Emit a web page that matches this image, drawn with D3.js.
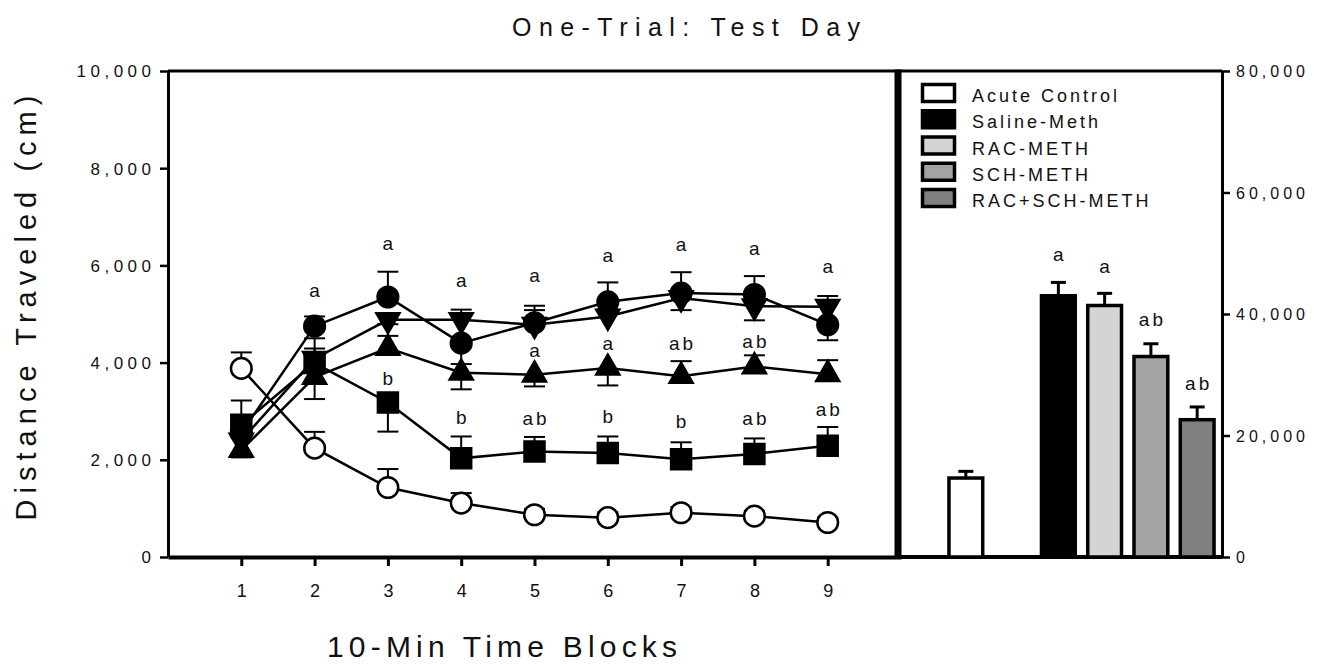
<html>
<head>
<meta charset="utf-8">
<style>
    body { margin: 0; background: #fff; }
    text { font-family: "Liberation Sans", Arial, sans-serif; fill: #111; }
</style>
</head>
<body>
<div id="chart"><svg></svg></div>
<script src="https://d3js.org/d3.v7.min.js"></script>
<script>
// ---- data ----
var blocks = [1, 2, 3, 4, 5, 6, 7, 8, 9]
var groups = ["Acute Control", "Saline-Meth", "RAC-METH", "SCH-METH", "RAC+SCH-METH"]

// per block means (cm); sem sign: + drawn above, - drawn below
var acuteMean  = [3880, 2240, 1430, 1110, 870, 810, 910, 840, 710]
var acuteSem   = [330, 335, 380, 205, 120, 110, 120, 110, 100]
var salineMean = [2550, 4750, 5350, 4400, 4820, 5250, 5430, 5400, 4780]
var salineSem  = [150, 200, 520, -430, 350, 400, 430, 380, -320]
var racMean    = [2400, 4080, 4880, 4880, 4780, 4950, 5330, 5160, 5150]
var racSem     = [150, 420, -90, 210, 300, 150, -250, -290, 220]
var schMean    = [2200, 3700, 4300, 3790, 3750, 3890, 3720, 3920, 3760]
var schSem     = [-150, -450, 250, -340, -240, -360, 310, 230, 290]
var comboMean  = [2720, 3990, 3180, 2030, 2170, 2140, 2010, 2120, 2290]
var comboSem   = [500, 300, -600, 450, 300, 340, 350, 320, 385]

// significance letters on the time course (at = height in cm)
var lineLetters = [
    {block: 2, label: "a", at: 5360}, {block: 3, label: "a", at: 6310}, {block: 4, label: "a", at: 5550},
    {block: 5, label: "a", at: 5650}, {block: 6, label: "a", at: 6080}, {block: 7, label: "a", at: 6290},
    {block: 8, label: "a", at: 6210}, {block: 9, label: "a", at: 5840},
    {block: 5, label: "a", at: 4120}, {block: 6, label: "a", at: 4250}, {block: 7, label: "ab", at: 4250},
    {block: 8, label: "ab", at: 4310},
    {block: 3, label: "b", at: 3530}, {block: 4, label: "b", at: 2740}, {block: 5, label: "ab", at: 2720},
    {block: 6, label: "b", at: 2760}, {block: 7, label: "b", at: 2660}, {block: 8, label: "ab", at: 2720},
    {block: 9, label: "ab", at: 2910}
]

// session totals
var barSlots   = ["Acute Control", "gap", "Saline-Meth", "RAC-METH", "SCH-METH", "RAC+SCH-METH"]
var totalMean  = [13000, 43000, 41400, 33000, 22600]
var totalSem   = [1100, 2200, 2000, 2100, 2100]
var totalLetters = ["", "a", "a", "ab", "ab"]
var totalLetterAt = [0, 48660, 46680, 38100, 27550]

var leftTicks = [0, 2000, 4000, 6000, 8000, 10000]
var rightTicks = [0, 20000, 40000, 60000, 80000]

var fills = ["#ffffff", "#000000", "#d4d4d4", "#a3a3a6", "#808080"]

// ---- layout ----
var screen = {width: 1326, height: 666}
var plot = {left: 168, right: 901, top: 71, bottom: 557}
var split = 898
var rightAxisX = 1222

var svg = d3.select("#chart svg")
            .attr("width", screen.width)
            .attr("height", screen.height)

var xScale = d3.scaleLinear().domain([0, 10]).range([plot.left, plot.right])
var yScale = d3.scaleLinear().domain([0, 10000]).range([plot.bottom, plot.top])
var yTotal = d3.scaleLinear().domain([0, 80000]).range([plot.bottom, plot.top])
var xBar = d3.scaleBand().domain(barSlots).range([936, 1227]).paddingInner(0.27).paddingOuter(0.28)

// frame
svg.append("line").attr("x1", plot.left).attr("x2", rightAxisX).attr("y1", plot.top).attr("y2", plot.top)
   .attr("stroke", "#000").attr("stroke-width", 3)
svg.append("line").attr("x1", split).attr("x2", split).attr("y1", plot.top - 1.5).attr("y2", plot.bottom)
   .attr("stroke", "#000").attr("stroke-width", 7)
svg.append("line").attr("x1", split).attr("x2", rightAxisX).attr("y1", plot.bottom).attr("y2", plot.bottom)
   .attr("stroke", "#000").attr("stroke-width", 4)

// axes
var yAxis = svg.append("g")
    .attr("transform", "translate(" + plot.left + ",0)")
    .call(d3.axisLeft(yScale).tickValues(leftTicks).tickSize(8).tickSizeOuter(0).tickFormat(d3.format(",")))
yAxis.select(".domain").attr("stroke-width", 3)
yAxis.selectAll(".tick line").attr("stroke-width", 2.5)
yAxis.selectAll("text").attr("x", -12.5).attr("dy", "0.35em").attr("font-size", null).attr("font-family", null)
     .style("font-size", "17px").style("letter-spacing", "4.5px")

var xAxis = svg.append("g")
    .attr("transform", "translate(0," + plot.bottom + ")")
    .call(d3.axisBottom(xScale).tickValues(blocks).tickSize(9).tickSizeOuter(0))
xAxis.select(".domain").attr("stroke-width", 4)
xAxis.selectAll(".tick line").attr("stroke-width", 3)
xAxis.selectAll("text").attr("y", 40).attr("dy", null).attr("font-family", null)
     .style("font-size", "18px")

var rAxis = svg.append("g")
    .attr("transform", "translate(" + rightAxisX + ",0)")
    .call(d3.axisRight(yTotal).tickValues(rightTicks).tickSize(8).tickSizeOuter(0).tickFormat(d3.format(",")))
rAxis.select(".domain").attr("stroke-width", 3)
rAxis.selectAll(".tick line").attr("stroke-width", 2.5)
rAxis.selectAll("text").attr("x", 14).attr("dy", "0.35em").attr("font-family", null)
     .style("font-size", "16px").style("letter-spacing", "4px")

// titles
svg.append("text").attr("x", 686).attr("y", 36).attr("text-anchor", "middle")
   .attr("textLength", 348).attr("lengthAdjust", "spacing")
   .style("font-size", "25px").text("One-Trial: Test Day")
svg.append("text").attr("x", 502).attr("y", 657).attr("text-anchor", "middle")
   .attr("textLength", 350).attr("lengthAdjust", "spacing")
   .style("font-size", "30px").text("10-Min Time Blocks")
svg.append("text").attr("transform", "translate(36,308) rotate(-90)").attr("text-anchor", "middle")
   .attr("textLength", 425).attr("lengthAdjust", "spacing")
   .style("font-size", "29px").text("Distance Traveled (cm)")

// time course
var series = [
    {mean: comboMean,  sem: comboSem,  symbol: d3.symbolSquare,   size: 400, fill: "#000", rot: 0},
    {mean: schMean,    sem: schSem,    symbol: d3.symbolTriangle, size: 230, fill: "#000", rot: 0},
    {mean: racMean,    sem: racSem,    symbol: d3.symbolTriangle, size: 230, fill: "#000", rot: 180},
    {mean: salineMean, sem: salineSem, symbol: d3.symbolCircle,   size: 335, fill: "#000", rot: 0},
    {mean: acuteMean,  sem: acuteSem,  symbol: d3.symbolCircle,   size: 335, fill: "#fff", rot: 0}
]

var linegenerator = d3.line()
    .x(function(d, i){return xScale(blocks[i])})
    .y(function(d){return yScale(d)})

var capHalf = 10.5
var groupsG = svg.append("g").selectAll("g").data(series).enter().append("g")

groupsG.each(function(s){
    var g = d3.select(this)
    var pts = s.mean.map(function(m, i){return {x: blocks[i], m: m, e: s.sem[i]}})
    var err = g.append("g").attr("stroke", "#000").attr("stroke-width", 2)
    err.selectAll(".stem").data(pts).enter().append("line")
       .attr("x1", function(d){return xScale(d.x)}).attr("x2", function(d){return xScale(d.x)})
       .attr("y1", function(d){return yScale(d.m)}).attr("y2", function(d){return yScale(d.m + d.e)})
    err.selectAll(".cap").data(pts).enter().append("line")
       .attr("x1", function(d){return xScale(d.x) - capHalf}).attr("x2", function(d){return xScale(d.x) + capHalf})
       .attr("y1", function(d){return yScale(d.m + d.e)}).attr("y2", function(d){return yScale(d.m + d.e)})
    g.append("path").datum(s.mean).attr("d", linegenerator)
     .attr("fill", "none").attr("stroke", "#000").attr("stroke-width", 2.5)
    g.selectAll(".mark").data(pts).enter().append("path")
     .attr("d", d3.symbol().type(s.symbol).size(s.size))
     .attr("transform", function(d){return "translate(" + xScale(d.x) + "," + yScale(d.m) + ") rotate(" + s.rot + ")"})
     .attr("fill", s.fill).attr("stroke", "#000").attr("stroke-width", 2.5)
})

svg.append("g").selectAll("text").data(lineLetters).enter().append("text")
   .attr("x", function(d){return xScale(d.block) + (d.label.length > 1 ? 1.5 : 0)})
   .attr("y", function(d){return yScale(d.at)})
   .attr("text-anchor", "middle")
   .style("font-size", "19px").style("letter-spacing", function(d){return d.label.length > 1 ? "3px" : "0px"})
   .text(function(d){return d.label})

// totals
var barData = groups.map(function(g, i){return {name: g, m: totalMean[i], e: totalSem[i], fill: fills[i], lab: totalLetters[i], at: totalLetterAt[i]}})
var bars = svg.append("g")
bars.selectAll(".ebar").data(barData).enter().append("g").each(function(d){
    var cx = xBar(d.name) + xBar.bandwidth() / 2
    var g = d3.select(this).attr("stroke", "#000").attr("stroke-width", 3)
    g.append("line").attr("x1", cx).attr("x2", cx).attr("y1", yTotal(d.m)).attr("y2", yTotal(d.m + d.e))
    g.append("line").attr("x1", cx - 7.5).attr("x2", cx + 7.5).attr("y1", yTotal(d.m + d.e)).attr("y2", yTotal(d.m + d.e))
})
bars.selectAll("rect").data(barData).enter().append("rect")
    .attr("x", function(d){return xBar(d.name)})
    .attr("width", xBar.bandwidth())
    .attr("y", function(d){return yTotal(d.m)})
    .attr("height", function(d){return yTotal(0) - yTotal(d.m)})
    .attr("fill", function(d){return d.fill}).attr("stroke", "#000").attr("stroke-width", 3.5)
bars.selectAll("text").data(barData.filter(function(d){return d.lab})).enter().append("text")
    .attr("x", function(d){return xBar(d.name) + xBar.bandwidth() / 2 + (d.lab.length > 1 ? 1.5 : 0)})
    .attr("y", function(d){return yTotal(d.at)})
    .attr("text-anchor", "middle")
    .style("font-size", "19px").style("letter-spacing", function(d){return d.lab.length > 1 ? "3px" : "0px"})
    .text(function(d){return d.lab})

// legend
var legend = svg.append("g").selectAll("g").data(barData).enter().append("g")
    .attr("transform", function(d, i){return "translate(0," + (93 + i * 26.25) + ")"})
legend.append("rect").attr("x", 922.5).attr("y", -8.5).attr("width", 32).attr("height", 17)
      .attr("fill", function(d){return d.fill}).attr("stroke", "#000").attr("stroke-width", 3.5)
legend.append("text").attr("x", 972).attr("y", 9)
      .style("font-size", "18px").style("letter-spacing", "3px")
      .text(function(d){return d.name})
</script>
</body>
</html>
